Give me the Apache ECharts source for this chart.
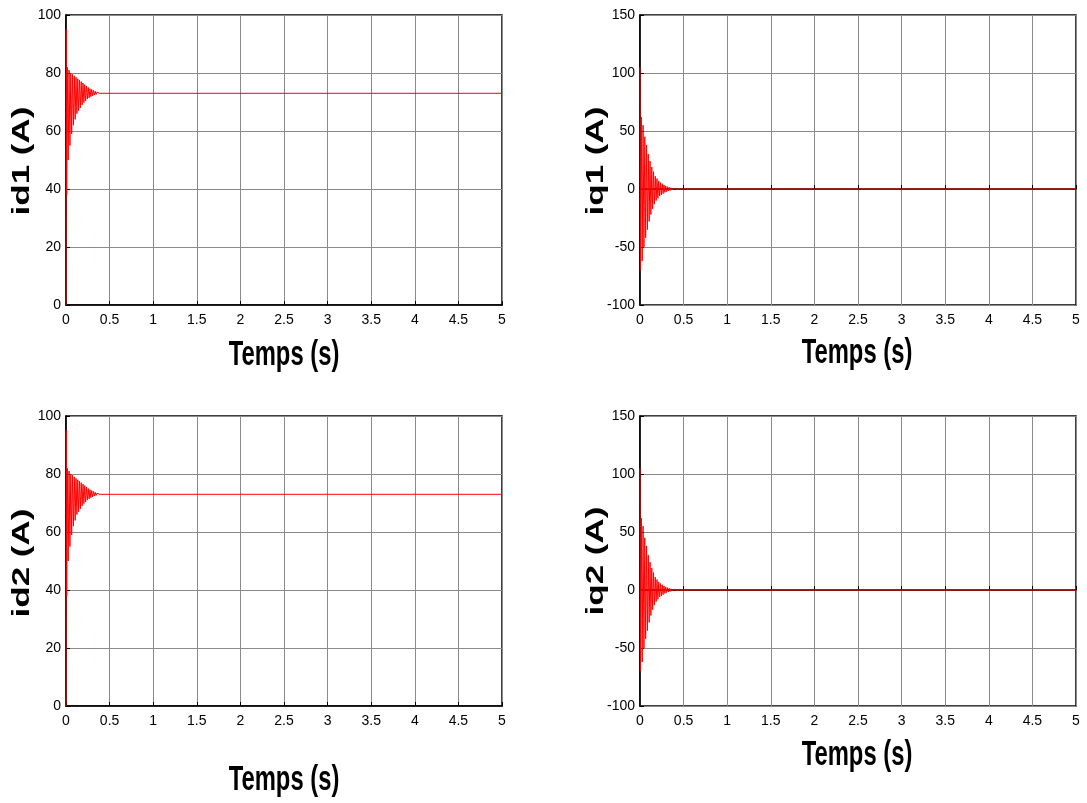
<!DOCTYPE html>
<html>
<head>
<meta charset="utf-8">
<script src="https://cdn.jsdelivr.net/npm/echarts@6/dist/echarts.min.js"></script>
<style>
  html, body { margin: 0; padding: 0; background: #fff; }
  #main { width: 1087px; height: 803px; }
</style>
</head>
<body>
<div id="main"></div>
<script>
// d-axis currents (id1, id2) : time (s) and current (A)
var idTime = [0, 0.003, 0.008, 0.015, 0.025, 0.035, 0.045, 0.055, 0.065, 0.075, 0.085, 0.095,
  0.105, 0.115, 0.125, 0.135, 0.145, 0.155, 0.165, 0.175, 0.185, 0.195, 0.205, 0.215,
  0.225, 0.235, 0.245, 0.255, 0.265, 0.275, 0.285, 0.295, 0.305, 0.315, 0.325, 0.335,
  0.345, 0.355, 0.365, 0.375, 0.385, 5];
var id1Values = [0, 95, 38, 82, 50, 81, 55, 80, 59, 79.5, 62, 79,
  64, 78.5, 66, 78, 67, 77.5, 68, 77, 69, 76.5, 69.8, 76,
  70.4, 75.5, 71, 75, 71.4, 74.6, 71.8, 74.3, 72.1, 74, 72.4, 73.7,
  72.6, 73.4, 72.8, 73.2, 73, 73];
var id2Values = [0, 95, 38, 82, 50, 81, 55, 80, 59, 79.5, 62, 79,
  64, 78.5, 66, 78, 67, 77.5, 68, 77, 69, 76.5, 69.8, 76,
  70.4, 75.5, 71, 75, 71.4, 74.6, 71.8, 74.3, 72.1, 74, 72.4, 73.7,
  72.6, 73.4, 72.8, 73.2, 73, 73];

// q-axis currents (iq1, iq2)
var iqTime = [0, 0.005, 0.015, 0.025, 0.035, 0.045, 0.055, 0.065, 0.075, 0.085, 0.095,
  0.105, 0.115, 0.125, 0.135, 0.145, 0.155, 0.165, 0.175, 0.185, 0.195,
  0.205, 0.215, 0.225, 0.235, 0.245, 0.255, 0.265, 0.275, 0.285, 0.295,
  0.305, 0.315, 0.325, 0.335, 0.345, 0.355, 0.365, 0.375, 0.385, 0.395,
  0.405, 0.415, 0.425, 0.435, 0.445, 0.455, 5];
var iq1Values = [105, -70, 62, -62, 55, -50, 45, -42, 38, -35, 30,
  -28, 24, -22, 19, -17, 15, -13, 11, -10, 9,
  -8, 7, -6, 5.5, -5, 4.5, -4, 3.5, -3, 2.6,
  -2.3, 2, -1.7, 1.5, -1.3, 1.1, -0.9, 0.8, -0.7, 0.6,
  -0.5, 0.4, -0.3, 0.2, -0.1, 0, 0];
var iq2Values = [105, -70, 62, -62, 55, -50, 45, -42, 38, -35, 30,
  -28, 24, -22, 19, -17, 15, -13, 11, -10, 9,
  -8, 7, -6, 5.5, -5, 4.5, -4, 3.5, -3, 2.6,
  -2.3, 2, -1.7, 1.5, -1.3, 1.1, -0.9, 0.8, -0.7, 0.6,
  -0.5, 0.4, -0.3, 0.2, -0.1, 0, 0];

var xTitle = 'Temps (s)';
var yTitles = ['id1 (A)', 'iq1 (A)', 'id2 (A)', 'iq2 (A)'];

function pairs(t, v) {
  return t.map(function (x, i) { return [x, v[i]]; });
}

var dom = document.getElementById('main');
var myChart = echarts.init(dom, null, { renderer: 'canvas' });

var tickFont = { fontFamily: 'Liberation Sans, Arial, sans-serif', fontSize: 14, color: '#000' };
var titleFont = 'bold 35px "Liberation Sans", Arial, sans-serif';
var grids = [
  { left: 66, top: 15, width: 436, height: 290 },
  { left: 640, top: 15, width: 436, height: 290 },
  { left: 66, top: 416, width: 436, height: 290 },
  { left: 640, top: 416, width: 436, height: 290 }
];
var yRanges = [[0, 100, 20], [-100, 150, 50], [0, 100, 20], [-100, 150, 50]];
// title anchor points (the original figure is squeezed horizontally)
var xTitlePos = [[284, 355], [857, 353], [284, 780], [857, 755]];
var yTitlePos = [[22, 161], [596, 161], [22, 563], [596, 561]];

var titles = [];
xTitlePos.forEach(function (p) {
  titles.push({
    type: 'text', x: p[0], y: p[1], scaleX: 0.68, scaleY: 1,
    style: { text: xTitle, font: titleFont, fill: '#000', align: 'center', verticalAlign: 'middle' }
  });
});
yTitlePos.forEach(function (p, i) {
  titles.push({
    type: 'text', x: p[0], y: p[1], rotation: Math.PI / 2, scaleX: 1, scaleY: 0.68,
    style: { text: yTitles[i], font: titleFont, fill: '#000', align: 'center', verticalAlign: 'middle' }
  });
});

var option = {
  animation: false,
  backgroundColor: '#fff',
  graphic: titles,
  grid: grids.map(function (g) {
    return Object.assign({ show: true, borderColor: '#000', borderWidth: 1.5, backgroundColor: '#fff' }, g);
  }),
  xAxis: grids.map(function (g, i) {
    return {
      type: 'value', gridIndex: i, min: 0, max: 5, interval: 0.5,
      axisLine: { show: true, lineStyle: { color: '#000', width: 1.5 } },
      axisTick: { show: true, inside: true, length: 4, lineStyle: { color: '#000' } },
      axisLabel: Object.assign({ margin: 8 }, tickFont),
      splitLine: { show: true, lineStyle: { color: '#8a8a8a', width: 1 } }
    };
  }),
  yAxis: grids.map(function (g, i) {
    var r = yRanges[i];
    return {
      type: 'value', gridIndex: i, min: r[0], max: r[1], interval: r[2],
      axisLine: { show: true, lineStyle: { color: '#000', width: 1.5 } },
      axisTick: { show: true, inside: true, length: 4, lineStyle: { color: '#000' } },
      axisLabel: Object.assign({ margin: 5 }, tickFont),
      splitLine: { show: true, lineStyle: { color: '#8a8a8a', width: 1 } }
    };
  }),
  series: [
    { type: 'line', xAxisIndex: 0, yAxisIndex: 0, data: pairs(idTime, id1Values) },
    { type: 'line', xAxisIndex: 1, yAxisIndex: 1, data: pairs(iqTime, iq1Values) },
    { type: 'line', xAxisIndex: 2, yAxisIndex: 2, data: pairs(idTime, id2Values) },
    { type: 'line', xAxisIndex: 3, yAxisIndex: 3, data: pairs(iqTime, iq2Values) }
  ].map(function (s) {
    return Object.assign({ showSymbol: false, symbol: 'none', lineStyle: { color: '#ff0000', width: 1 } }, s);
  })
};

if (option && typeof option === "object") {
  myChart.setOption(option, true);
}
</script>
</body>
</html>
